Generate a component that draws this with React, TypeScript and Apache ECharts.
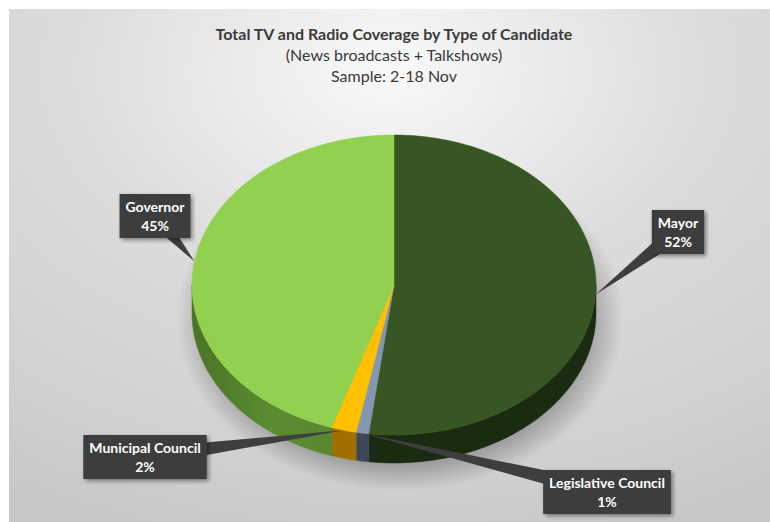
import React, { useEffect, useRef } from 'react';
import * as echarts from 'echarts';

// Share of total TV and radio coverage (%), listed clockwise from 12 o'clock
const categories = ['Mayor', 'Legislative Council', 'Municipal Council', 'Governor'];
const shares = [52, 1, 2, 45];

const titleLines = [
  'Total TV and Radio Coverage by Type of Candidate',
  '(News broadcasts + Talkshows)',
  'Sample: 2-18 Nov',
];

// Canvas and pie geometry
const W = 761;
const H = 513;
const CX = 385;
const CY = 276;
const RX = 202;
const RY = 150;
const DEPTH = 28;

const topColors = ['#375623', '#8497B0', '#FFC000', '#92D050'];
const sideColors: any[] = [
  '#1b2b11',
  '#3d4757',
  '#a06f00',
  new echarts.graphic.LinearGradient(0, 0, 1, 0, [
    { offset: 0, color: '#4a7426' },
    { offset: 0.6, color: '#5b8c32' },
    { offset: 1, color: '#578830' },
  ]),
];

// Callout box centres for each slice label
const labelCenters = [
  [669, 223],
  [598, 483],
  [136, 448],
  [146, 207],
];

const TEXT_COLOR = '#3a3a3a';
const FONT = 'Lato, "Open Sans", sans-serif';

function ellipsePoint(deg: number, dy = 0): number[] {
  const r = (deg * Math.PI) / 180;
  return [CX + RX * Math.sin(r), CY - RY * Math.cos(r) + dy];
}

function arc(from: number, to: number, dy: number): number[][] {
  const n = Math.max(2, Math.ceil(Math.abs(to - from)));
  const pts: number[][] = [];
  for (let k = 0; k <= n; k++) {
    pts.push(ellipsePoint(from + ((to - from) * k) / n, dy));
  }
  return pts;
}

function renderItem(params: any, api: any) {
  const i = params.dataIndex;
  const total = shares.reduce((a, b) => a + b, 0);
  let before = 0;
  for (let j = 0; j < i; j++) before += shares[j];
  const value = api.value(0);
  const a0 = (before / total) * 360;
  const a1 = ((before + value) / total) * 360;

  const children: any[] = [];

  // visible front wall of the slice (between 3 and 9 o'clock)
  const s = Math.max(a0, 90);
  const e = Math.min(a1, 270);
  if (s < e) {
    children.push({
      type: 'polygon',
      z2: 1,
      shape: { points: [...arc(s, e, 0), ...arc(e, s, DEPTH)] },
      style: { fill: sideColors[i], stroke: sideColors[i], lineWidth: 0.5 },
    });
  }

  // top face
  children.push({
    type: 'polygon',
    z2: 10,
    shape: { points: [[CX, CY], ...arc(a0, a1, 0)] },
    style: { fill: topColors[i], stroke: topColors[i], lineWidth: 0.5 },
  });

  // callout: pointer wedge and label box
  const mid = (a0 + a1) / 2;
  const tip = ellipsePoint(mid);
  const c = labelCenters[i];
  const dx = tip[0] - c[0];
  const dy = tip[1] - c[1];
  const len = Math.sqrt(dx * dx + dy * dy) || 1;
  const px = -dy / len;
  const py = dx / len;
  const half = 9;
  children.push({
    type: 'polygon',
    z2: 100,
    shape: {
      points: [
        [c[0] + px * half, c[1] + py * half],
        tip,
        [c[0] - px * half, c[1] - py * half],
      ],
    },
    style: { fill: '#3e3e3e' },
  });
  children.push({
    type: 'text',
    z2: 101,
    style: {
      text: `${categories[i]}\n${value}%`,
      x: c[0],
      y: c[1],
      align: 'center',
      verticalAlign: 'middle',
      fill: '#ffffff',
      font: `bold 14px ${FONT}`,
      lineHeight: 19,
      backgroundColor: '#3e3e3e',
      padding: [3, 6],
      shadowBlur: 4,
      shadowOffsetX: 2,
      shadowOffsetY: 2,
      shadowColor: 'rgba(0,0,0,0.45)',
    },
  });

  return { type: 'group', children };
}

export default function App() {
  const ref = useRef<HTMLDivElement>(null);

  useEffect(() => {
    const chart = echarts.init(ref.current!, null, { renderer: 'svg' });
    chart.setOption({
      animation: false,
      graphic: [
        {
          type: 'rect',
          z: -10,
          shape: { x: 0, y: 0, width: W, height: H },
          style: {
            fill: new echarts.graphic.RadialGradient(0.5, 0.12, 0.95, [
              { offset: 0, color: '#f9f9f9' },
              { offset: 0.45, color: '#dcdcdc' },
              { offset: 0.8, color: '#d1d1d1' },
              { offset: 1, color: '#c8c8c8' },
            ]),
          },
        },
        {
          type: 'ellipse',
          z: 1,
          shape: { cx: CX + 6, cy: CY + DEPTH + 6, rx: RX + 22, ry: RY + 22 },
          style: {
            fill: new echarts.graphic.RadialGradient(0.5, 0.5, 0.5, [
              { offset: 0, color: 'rgba(0,0,0,0.3)' },
              { offset: 0.85, color: 'rgba(0,0,0,0.24)' },
              { offset: 1, color: 'rgba(0,0,0,0)' },
            ]),
          },
        },
        ...titleLines.map((t, k) => ({
          type: 'text',
          z: 5,
          style: {
            text: t,
            x: 385,
            y: 24 + k * 21,
            align: 'center',
            verticalAlign: 'middle',
            fill: TEXT_COLOR,
            font: `${k === 0 ? 'bold ' : ''}16px ${FONT}`,
          },
        })),
      ],
      series: [
        {
          type: 'custom',
          coordinateSystem: 'none',
          renderItem,
          data: shares.map((v, i) => ({ name: categories[i], value: v })),
        },
      ],
    });
    return () => chart.dispose();
  }, []);

  return (
    <div
      ref={ref}
      style={{ position: 'absolute', left: 9, top: 9, width: W, height: H }}
    />
  );
}
